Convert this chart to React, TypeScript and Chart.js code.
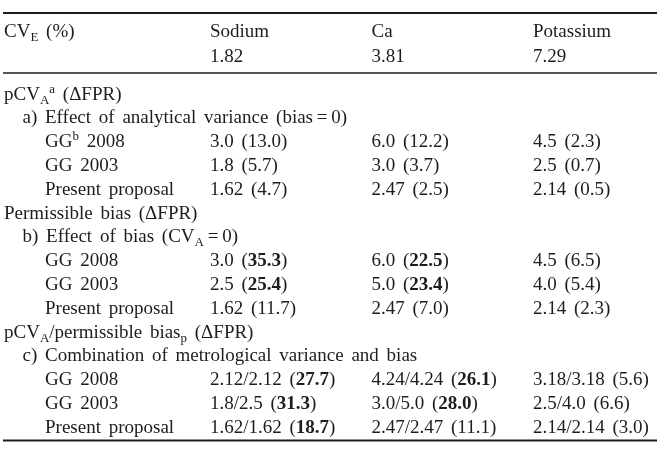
import React, { useEffect, useRef } from "react";
import { Chart, registerables } from "chart.js";

Chart.register(...registerables);

// ---- data ----
const analytes = ["Sodium", "Ca", "Potassium"];
const cvE = ["1.82", "3.81", "7.29"];

type Seg = { t: string; s?: "sub" | "sup"; b?: boolean };
type Row = { level: number; label: Seg[]; data?: number };

const rowLabels: Row[] = [
  { level: 0, label: [{ t: "pCV" }, { t: "A", s: "sub" }, { t: "a", s: "sup" }, { t: " (\u0394FPR)" }] },
  { level: 1, label: [{ t: "a) Effect of analytical variance (bias\u2009=\u20090)" }] },
  { level: 2, label: [{ t: "GG" }, { t: "b", s: "sup" }, { t: " 2008" }], data: 0 },
  { level: 2, label: [{ t: "GG 2003" }], data: 1 },
  { level: 2, label: [{ t: "Present proposal" }], data: 2 },
  { level: 0, label: [{ t: "Permissible bias (\u0394FPR)" }] },
  { level: 1, label: [{ t: "b) Effect of bias (CV" }, { t: "A", s: "sub" }, { t: "\u2009=\u20090)" }] },
  { level: 2, label: [{ t: "GG 2008" }], data: 3 },
  { level: 2, label: [{ t: "GG 2003" }], data: 4 },
  { level: 2, label: [{ t: "Present proposal" }], data: 5 },
  { level: 0, label: [{ t: "pCV" }, { t: "A", s: "sub" }, { t: "/permissible bias" }, { t: "p", s: "sub" }, { t: " (\u0394FPR)" }] },
  { level: 1, label: [{ t: "c) Combination of metrological variance and bias" }] },
  { level: 2, label: [{ t: "GG 2008" }], data: 6 },
  { level: 2, label: [{ t: "GG 2003" }], data: 7 },
  { level: 2, label: [{ t: "Present proposal" }], data: 8 },
];

const sodiumLimit = ["3.0", "1.8", "1.62", "3.0", "2.5", "1.62", "2.12/2.12", "1.8/2.5", "1.62/1.62"];
const sodiumFpr = [13.0, 5.7, 4.7, 35.3, 25.4, 11.7, 27.7, 31.3, 18.7];
const sodiumBold = [false, false, false, true, true, false, true, true, true];

const caLimit = ["6.0", "3.0", "2.47", "6.0", "5.0", "2.47", "4.24/4.24", "3.0/5.0", "2.47/2.47"];
const caFpr = [12.2, 3.7, 2.5, 22.5, 23.4, 7.0, 26.1, 28.0, 11.1];
const caBold = [false, false, false, true, true, false, true, true, false];

const potassiumLimit = ["4.5", "2.5", "2.14", "4.5", "4.0", "2.14", "3.18/3.18", "2.5/4.0", "2.14/2.14"];
const potassiumFpr = [2.3, 0.7, 0.5, 6.5, 5.4, 2.3, 5.6, 6.6, 3.0];
const potassiumBold = [false, false, false, false, false, false, false, false, false];

const limits = [sodiumLimit, caLimit, potassiumLimit];
const fprs = [sodiumFpr, caFpr, potassiumFpr];
const bolds = [sodiumBold, caBold, potassiumBold];

// ---- layout (row/column units mapped through chart scales) ----
const W = 657;
const H = 450;
const ROW_H = 23.8;
const FIRST_BASE = 99.5;
const COL_X = [4, 210, 371.5, 533];
const INDENT = [0, 18.5, 41];
const FONT_FAMILY = '"Liberation Serif", "Times New Roman", serif';
const FONT_SIZE = 19;
const SMALL = 13;
const WORD_GAP = 3;
const COLOR = "#1e1c1c";

function drawRich(ctx: CanvasRenderingContext2D, segs: Seg[], x: number, y: number) {
  let cx = x;
  for (const sg of segs) {
    const size = sg.s ? SMALL : FONT_SIZE;
    ctx.font = `${sg.b ? "bold " : ""}${size}px ${FONT_FAMILY}`;
    const dy = sg.s === "sub" ? 4 : sg.s === "sup" ? -7 : 0;
    const parts = sg.t.split(" ");
    parts.forEach((p, i) => {
      if (i > 0) cx += ctx.measureText(" ").width + WORD_GAP;
      if (p.length) {
        ctx.fillText(p, cx, y + dy);
        cx += ctx.measureText(p).width;
      }
    });
  }
}

const tablePlugin = {
  id: "tablePlugin",
  afterDraw(chart: any) {
    const ctx: CanvasRenderingContext2D = chart.ctx;
    const xs = chart.scales.x;
    const ys = chart.scales.y;
    ctx.save();
    ctx.fillStyle = COLOR;
    ctx.strokeStyle = COLOR;
    ctx.textBaseline = "alphabetic";
    ctx.textAlign = "left";

    const rule = (r: number, w: number) => {
      const y = ys.getPixelForValue(r);
      ctx.lineWidth = w;
      ctx.beginPath();
      ctx.moveTo(xs.getPixelForValue(3), y);
      ctx.lineTo(xs.getPixelForValue(W), y);
      ctx.stroke();
    };
    rule((13 - FIRST_BASE) / ROW_H, 2);
    rule((73 - FIRST_BASE) / ROW_H, 1.6);
    rule((440.5 - FIRST_BASE) / ROW_H, 2);

    // header
    const h1 = ys.getPixelForValue((37 - FIRST_BASE) / ROW_H);
    const h2 = ys.getPixelForValue((62 - FIRST_BASE) / ROW_H);
    drawRich(ctx, [{ t: "CV" }, { t: "E", s: "sub" }, { t: " (%)" }], xs.getPixelForValue(COL_X[0]), h1);
    analytes.forEach((a, i) => {
      const x = xs.getPixelForValue(COL_X[i + 1]);
      drawRich(ctx, [{ t: a }], x, h1);
      drawRich(ctx, [{ t: cvE[i] }], x, h2);
    });

    // body
    rowLabels.forEach((row, r) => {
      const y = ys.getPixelForValue(r);
      drawRich(ctx, row.label, xs.getPixelForValue(COL_X[0] + INDENT[row.level]), y);
      if (row.data !== undefined) {
        const d = row.data;
        for (let c = 0; c < 3; c++) {
          drawRich(
            ctx,
            [
              { t: `${limits[c][d]} (` },
              { t: fprs[c][d].toFixed(1), b: bolds[c][d] },
              { t: ")" },
            ],
            xs.getPixelForValue(COL_X[c + 1]),
            y
          );
        }
      }
    });
    ctx.restore();
  },
};

export default function App() {
  const ref = useRef<HTMLCanvasElement>(null);
  useEffect(() => {
    document.body.style.margin = "0";
    document.body.style.background = "#ffffff";
    const chart = new Chart(ref.current!, {
      type: "scatter",
      data: { datasets: [] },
      options: {
        animation: false,
        responsive: false,
        devicePixelRatio: 1,
        layout: { padding: 0 },
        plugins: { legend: { display: false }, tooltip: { enabled: false } },
        scales: {
          x: { type: "linear", display: false, min: 0, max: W },
          y: {
            type: "linear",
            display: false,
            reverse: true,
            min: -FIRST_BASE / ROW_H,
            max: (H - FIRST_BASE) / ROW_H,
          },
        },
      },
      plugins: [tablePlugin],
    });
    return () => chart.destroy();
  }, []);
  return (
    <div style={{ position: "absolute", left: 0, top: 0, width: W, height: H, background: "#fff" }}>
      <canvas ref={ref} width={W} height={H} style={{ width: W, height: H }} />
    </div>
  );
}
